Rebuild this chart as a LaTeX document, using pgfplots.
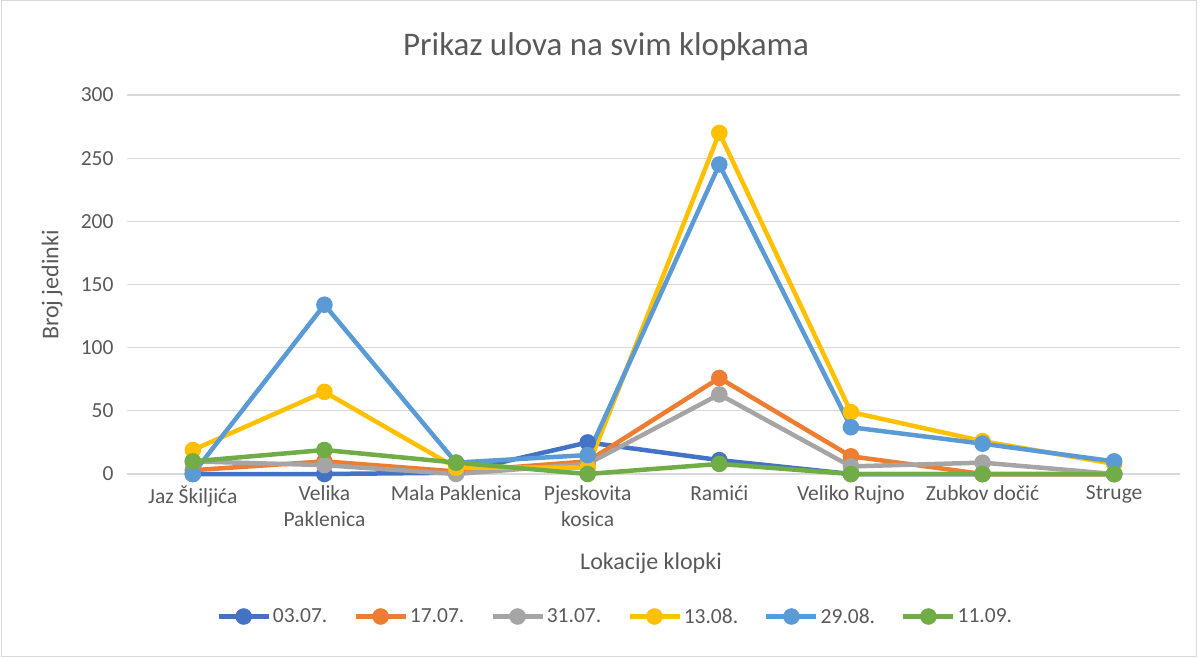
\documentclass[border=0pt]{standalone}
\usepackage{fontspec}
\setmainfont{Carlito}
\usepackage{pgfplots}
\pgfplotsset{compat=1.18}
\definecolor{c1}{HTML}{4472C4}
\definecolor{c2}{HTML}{ED7D31}
\definecolor{c3}{HTML}{A5A5A5}
\definecolor{c4}{HTML}{FFC000}
\definecolor{c5}{HTML}{5B9BD5}
\definecolor{c6}{HTML}{70AD47}
\definecolor{txt}{HTML}{595959}
\definecolor{grd}{HTML}{D9D9D9}
\begin{document}
\begin{tikzpicture}[x=1pt,y=1pt]
\path[use as bounding box] (0,0) rectangle (1203,657);
\draw[grd, line width=1pt] (1,1) rectangle (1196,656);
\node[txt, font=\fontsize{33}{38}\selectfont] at (606,610) {Prikaz ulova na svim klopkama};
\begin{axis}[
  at={(127pt,183pt)}, anchor=south west,
  scale only axis, width=1053pt, height=379pt,
  xmin=-0.5, xmax=7.5, ymin=0, ymax=300,
  axis line style={draw=none},
  ymajorgrids, grid style={grd, line width=1.3pt},
  ytick={0,50,...,300},
  xtick={0,...,7},
  xticklabels={Jaz Škiljića, Velika\\Paklenica, Mala Paklenica, Pjeskovita\\kosica, Ramići, Veliko Rujno, Zubkov dočić, Struge},
  major tick length=0pt,
  tick style={draw=none},
  /pgf/number format/assume math mode=true,
  tick label style={txt, font=\fontsize{21.5}{26}\selectfont},
  xticklabel style={align=center, yshift=-8pt},
  yticklabel style={xshift=-10pt},
  clip=false,
  every axis plot/.append style={line width=4.5pt, mark=*, mark size=6pt, mark options={solid}},
  legend columns=6,
  legend style={at={(0.4637,-0.376)}, anchor=center, draw=none, fill=none,
    font=\fontsize{21.5}{26}\selectfont, text=txt,
    /tikz/every even column/.append style={column sep=24pt}},
  legend image code/.code={\draw[mark repeat=2,mark phase=2,#1] plot coordinates {(0pt,0pt) (25pt,0pt) (50pt,0pt)};},
]
\addplot[c1] coordinates {(0,0) (1,0) (2,1) (3,25) (4,11) (5,0) (6,0) (7,0)};
\addlegendentry{03.07.}
\addplot[c2] coordinates {(0,3) (1,10) (2,2) (3,10) (4,76) (5,14) (6,0) (7,0)};
\addlegendentry{17.07.}
\addplot[c3] coordinates {(0,10) (1,7) (2,0) (3,8) (4,63) (5,6) (6,9) (7,0)};
\addlegendentry{31.07.}
\addplot[c4] coordinates {(0,19) (1,65) (2,5) (3,5) (4,270) (5,49) (6,26) (7,8)};
\addlegendentry{13.08.}
\addplot[c5] coordinates {(0,0) (1,134) (2,9) (3,15) (4,245) (5,37) (6,24) (7,10)};
\addlegendentry{29.08.}
\addplot[c6] coordinates {(0,10) (1,19) (2,9) (3,0) (4,8) (5,0) (6,0) (7,0)};
\addlegendentry{11.09.}
\end{axis}
\node[txt, font=\fontsize{24}{28}\selectfont] at (651,94) {Lokacije klopki};
\node[txt, font=\fontsize{24}{28}\selectfont, rotate=90] at (52,372) {Broj jedinki};
\end{tikzpicture}
\end{document}
